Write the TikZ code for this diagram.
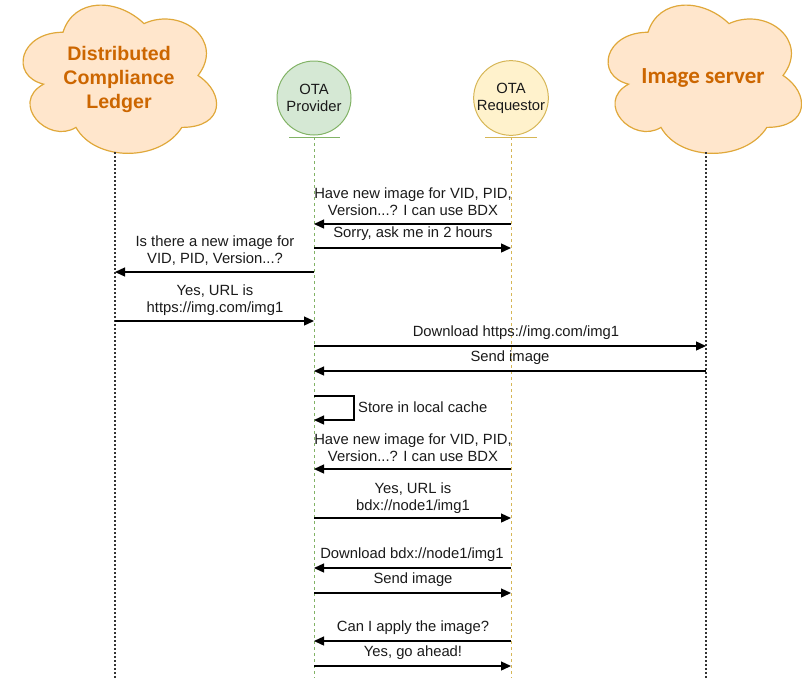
\documentclass[tikz,border=0pt]{standalone}
\usepackage{fontspec}
\setmainfont{Liberation Sans}
\newfontfamily\calibrifont{Carlito}
\usetikzlibrary{arrows.meta}
\definecolor{cloudfill}{HTML}{FFE6CC}
\definecolor{cloudline}{HTML}{E0A83A}
\definecolor{cloudtext}{HTML}{CC6600}
\definecolor{provfill}{HTML}{D5E8D4}
\definecolor{provline}{HTML}{82B366}
\definecolor{reqfill}{HTML}{FFF2CC}
\definecolor{reqline}{HTML}{D6B656}
\definecolor{txt}{HTML}{1A1A1A}
\tikzset{
  msg/.style={font=\fontsize{14.8}{17}\selectfont, text=txt, align=center, inner sep=0pt, yshift=-1.5pt},
  arr/.style={line width=1.3pt, -{Triangle[length=10pt,width=9pt]}},
  dotline/.style={line width=1.2pt, black!80, dash pattern=on 2pt off 2pt},
  provlife/.style={line width=1pt, provline, dash pattern=on 3pt off 3pt},
  reqlife/.style={line width=1pt, reqline, dash pattern=on 3pt off 3pt},
  actor/.style={circle, minimum size=74pt, inner sep=0pt, line width=1pt, align=center,
     font=\fontsize{14.8}{17}\selectfont, text=txt},
  cloudlbl/.style={text=cloudtext, align=center, inner sep=0pt},
  cloudshape/.style={fill=cloudfill, draw=cloudline, line width=1.2pt}
}
\begin{document}
\begin{tikzpicture}[x=1pt,y=-1pt]
\useasboundingbox (0,0) rectangle (802,678);
% clouds
\begin{scope}[shift={(9,-11)}, xscale=216, yscale=173]
\draw[cloudshape] (0.25,0.25) .. controls (0.05,0.25) and (0,0.5) .. (0.16,0.55)
 .. controls (0,0.66) and (0.18,0.9) .. (0.31,0.8)
 .. controls (0.4,1) and (0.7,1) .. (0.8,0.8)
 .. controls (1,0.8) and (1,0.6) .. (0.875,0.5)
 .. controls (1,0.3) and (0.8,0.1) .. (0.625,0.2)
 .. controls (0.5,0.05) and (0.3,0.05) .. (0.25,0.25) -- cycle;
\end{scope}
\begin{scope}[shift={(594,-11)}, xscale=216, yscale=173]
\draw[cloudshape] (0.25,0.25) .. controls (0.05,0.25) and (0,0.5) .. (0.16,0.55)
 .. controls (0,0.66) and (0.18,0.9) .. (0.31,0.8)
 .. controls (0.4,1) and (0.7,1) .. (0.8,0.8)
 .. controls (1,0.8) and (1,0.6) .. (0.875,0.5)
 .. controls (1,0.3) and (0.8,0.1) .. (0.625,0.2)
 .. controls (0.5,0.05) and (0.3,0.05) .. (0.25,0.25) -- cycle;
\end{scope}
\node[cloudlbl, font=\bfseries\fontsize{19.6}{24}\selectfont] (dcl) at (119,79) {Distributed\\Compliance\\Ledger};
\node[cloudlbl, font=\calibrifont\bfseries\fontsize{23}{26}\selectfont] (imgsrv) at (703,78) {Image server};
% actors
\node[actor, fill=provfill, draw=provline] (prov) at (314,98) {OTA\\Provider};
\node[actor, fill=reqfill, draw=reqline] (req) at (511,98) {OTA\\Requestor};
\draw[provline, line width=1pt] (289,137) -- (340,137);
\draw[reqline, line width=1pt] (485,137) -- (537,137);
% lifelines
\coordinate (dclT) at (115,152); \coordinate (dclB) at (115,678);
\coordinate (srvT) at (706,152); \coordinate (srvB) at (706,678);
\coordinate (provT) at (314,137); \coordinate (provB) at (314,678);
\coordinate (reqT) at (511,137); \coordinate (reqB) at (511,678);
\draw[dotline] (dclT) -- (dclB);
\draw[dotline] (srvT) -- (srvB);
\draw[provlife] (provT) -- (provB);
\draw[reqlife] (reqT) -- (reqB);
% message endpoints
\foreach \n/\y in {1/224,2/248,3/272,4/321,5/346,6/371,8/469,9/518,10/568,11/593,12/641,13/666}{
  \coordinate (p\n) at (314,\y);
  \coordinate (r\n) at (511,\y);
  \coordinate (d\n) at (115,\y);
  \coordinate (s\n) at (706,\y);
}
% messages
\node[msg] (t1) at (413,200.5) {Have new image for VID, PID,\\Version...? I can use BDX};
\draw[arr] (r1) -- (p1);
\node[msg] (t2) at (413,232) {Sorry, ask me in 2 hours};
\draw[arr] (p2) -- (r2);
\node[msg] (t3) at (215,249) {Is there a new image for\\VID, PID, Version...?};
\draw[arr] (p3) -- (d3);
\node[msg] (t4) at (215,298.5) {Yes, URL is\\https://img.com/img1};
\draw[arr] (d4) -- (p4);
\node[msg] (t5) at (516,331) {Download https://img.com/img1};
\draw[arr] (p5) -- (s5);
\node[msg] (t6) at (510,356) {Send image};
\draw[arr] (s6) -- (p6);
% self loop
\coordinate (l1) at (314,396); \coordinate (l2) at (354,396);
\coordinate (l3) at (354,420); \coordinate (l4) at (314,420);
\draw[arr] (l1) -- (l2) -- (l3) -- (l4);
\node[msg, anchor=west] (t7) at (358,406) {Store in local cache};
\node[msg] (t8) at (413,446.5) {Have new image for VID, PID,\\Version...? I can use BDX};
\draw[arr] (r8) -- (p8);
\node[msg] (t9) at (413,496.5) {Yes, URL is\\bdx://node1/img1};
\draw[arr] (p9) -- (r9);
\node[msg] (t10) at (412,553) {Download bdx://node1/img1};
\draw[arr] (r10) -- (p10);
\node[msg] (t11) at (413,578) {Send image};
\draw[arr] (p11) -- (r11);
\node[msg] (t12) at (413,626) {Can I apply the image?};
\draw[arr] (r12) -- (p12);
\node[msg] (t13) at (413,651) {Yes, go ahead!};
\draw[arr] (p13) -- (r13);
\end{tikzpicture}
\end{document}
